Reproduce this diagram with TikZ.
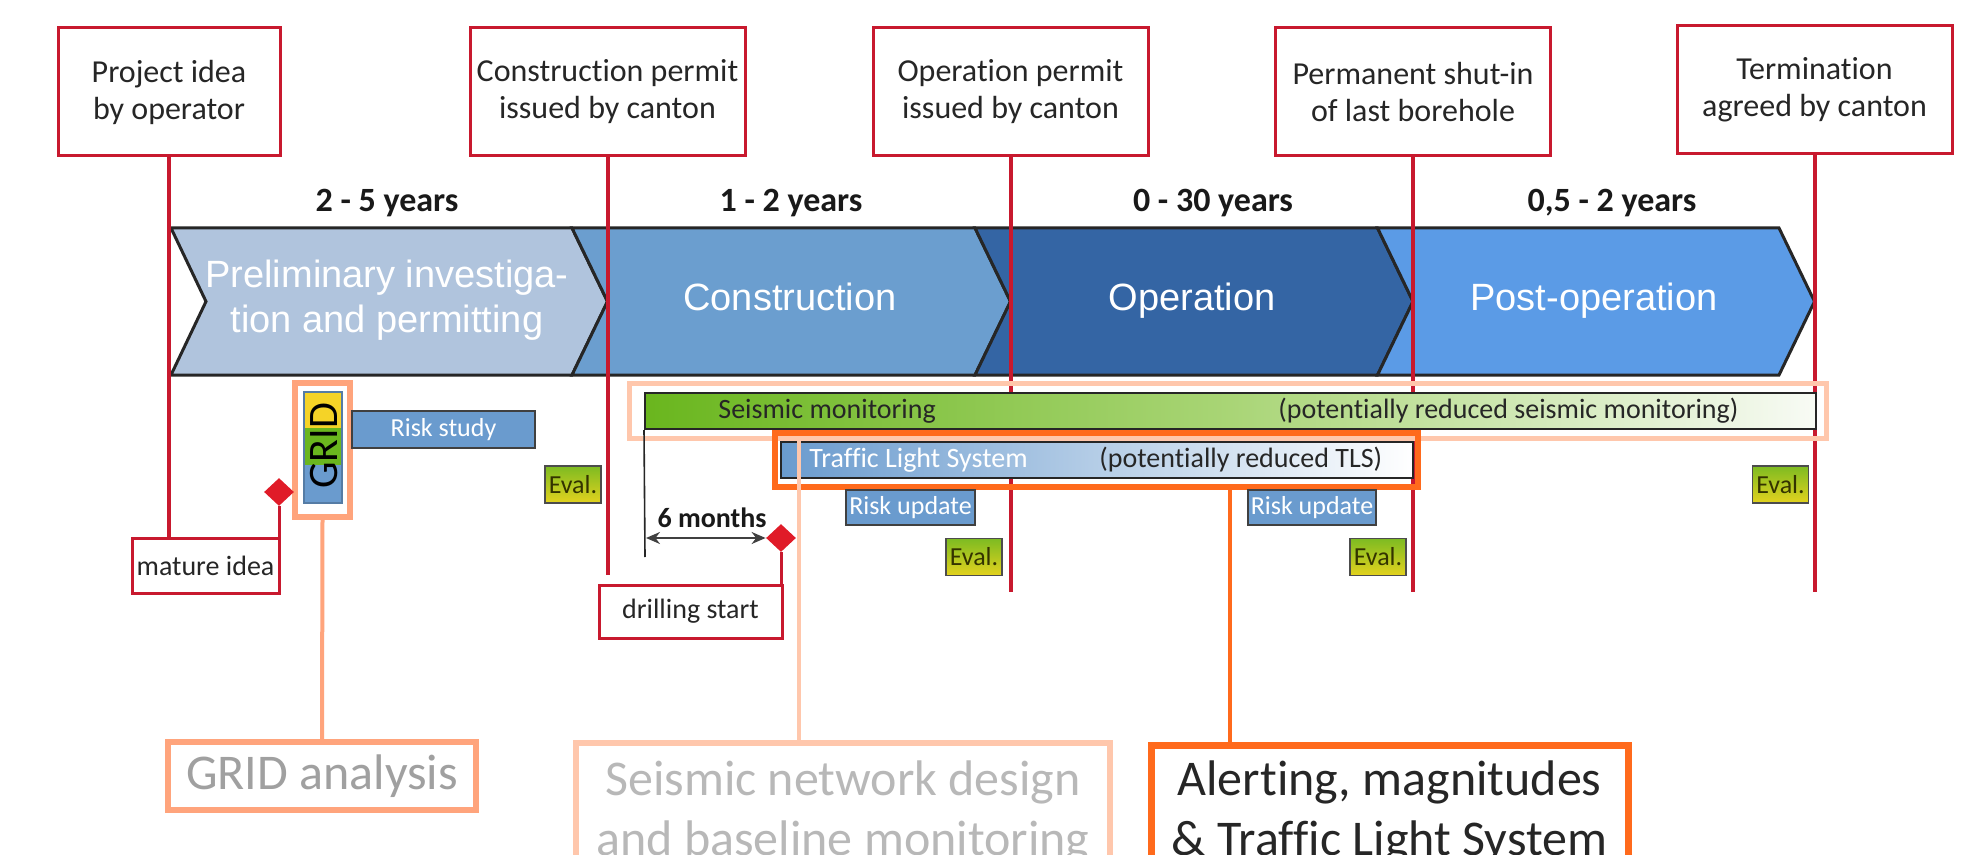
\documentclass[tikz,border=0pt]{standalone}
\usepackage{fontspec}
\setmainfont{Carlito}[Ligatures=NoCommon]
\newfontfamily\arialf{Liberation Sans}
\usetikzlibrary{arrows.meta,shapes.geometric}
\definecolor{evred}{HTML}{C8192E}
\definecolor{milered}{HTML}{E01B28}
\definecolor{cone}{HTML}{B0C4DD}
\definecolor{ctwo}{HTML}{6B9ECF}
\definecolor{cthree}{HTML}{3465A4}
\definecolor{cfour}{HTML}{5B9BE6}
\definecolor{fgrid}{HTML}{FFA47C}
\definecolor{fseis}{HTML}{FFC7AC}
\definecolor{ftls}{HTML}{FF6A1C}
\definecolor{riskblue}{HTML}{6A9BCE}
\definecolor{sgreen}{HTML}{6AB61E}
\definecolor{smid}{HTML}{A9D576}
\definecolor{swhite}{HTML}{F8FBF5}
\definecolor{evgreen}{HTML}{7DBB22}
\definecolor{evyellow}{HTML}{E3D21E}
\definecolor{evtext}{HTML}{333300}
\definecolor{gridyellow}{HTML}{F5D327}
\definecolor{gridgreen}{HTML}{6AB61E}
\definecolor{graytext}{HTML}{A0A0A0}
\definecolor{lgraytext}{HTML}{B8B8B8}
\begin{document}
\begin{tikzpicture}[x=0.5pt,y=-0.5pt,
  eventbox/.style={draw=evred, line width=1.5pt, fill=white, align=center, inner sep=0pt, text=black!85, font=\fontsize{16}{18.5}\selectfont, minimum height=64pt, minimum width=137.5pt},
  evline/.style={draw=evred, line width=2pt},
  yrs/.style={font=\bfseries\fontsize{17}{20}\selectfont, text=black!90, inner sep=0pt},
  chev/.style={draw=black!85, line width=1.5pt, line join=miter},
  phase/.style={font=\arialf\fontsize{19}{22.5}\selectfont, text=white, align=center, inner sep=0pt},
  smallbox/.style={draw=evred, line width=1.5pt, fill=white, inner sep=0pt, text=black!85, font=\fontsize{14}{16}\selectfont},
  riskbox/.style={draw=black!75, line width=0.8pt, fill=riskblue, text=white, inner sep=0pt, font=\fontsize{13}{15}\selectfont},
  evalbox/.style={draw=black!70, line width=0.8pt, top color=evgreen, bottom color=evyellow, text=evtext, inner sep=0pt, font=\fontsize{13}{15}\selectfont, minimum width=28pt, minimum height=18.5pt},
  barlabel/.style={anchor=west, inner sep=0pt, font=\fontsize{14}{16}\selectfont},
  mile/.style={diamond, fill=milered, inner sep=0pt, minimum width=15pt, minimum height=14pt},
  topic/.style={align=center, inner sep=0pt, font=\fontsize{25}{30}\selectfont},
  frame/.style={inner sep=0pt}
]
\clip (0,0) rectangle (1984,855);
\fill[white] (0,0) rectangle (1984,855);

% phases
\draw[chev, fill=cone] (171,228) -- (572,228) -- (607.5,301.5) -- (572,375) -- (171,375) -- (206,301.5) -- cycle;
\draw[chev, fill=ctwo] (572,228) -- (975,228) -- (1010.5,301.5) -- (975,375) -- (572,375) -- (607.5,301.5) -- cycle;
\draw[chev, fill=cthree] (975,228) -- (1377.5,228) -- (1413,301.5) -- (1377.5,375) -- (975,375) -- (1010.5,301.5) -- cycle;
\draw[chev, fill=cfour] (1377.5,228) -- (1779,228) -- (1814.5,301.5) -- (1779,375) -- (1377.5,375) -- (1413,301.5) -- cycle;
\node[phase] (p1) at (387,300) {Preliminary investiga-\\tion and permitting};
\node[phase, anchor=base] (p2) at (790,311) {Construction};
\node[phase, anchor=base] (p3) at (1192,311) {Operation};
\node[phase, anchor=base] (p4) at (1594,311) {Post-operation};

\node[yrs] (y1) at (387,203) {2 - 5 years};
\node[yrs] (y2) at (791,203) {1 - 2 years};
\node[yrs] (y3) at (1213,203) {0 - 30 years};
\node[yrs] (y4) at (1612,203) {0,5 - 2 years};

% events
\node[eventbox, minimum width=111pt] (pi) at (169,92) {Project idea\\by operator};
\node[eventbox] (cp) at (607.5,92) {Construction permit\\issued by canton};
\node[eventbox] (op) at (1010.5,92) {Operation permit\\issued by canton};
\node[eventbox] (ps) at (1413,92) {Permanent shut-in\\of last borehole};
\node[eventbox] (te) at (1814.5,90) {Termination\\agreed by canton};

\coordinate (cpe) at (607.5,575);
\coordinate (ope) at (1010.5,592);
\coordinate (pse) at (1413,592);
\coordinate (tee) at (1814.5,592);
\draw[evline] (cp.south) -- (cpe);
\draw[evline] (op.south) -- (ope);
\draw[evline] (ps.south) -- (pse);
\draw[evline] (te.south) -- (tee);

% frames
\node[frame, draw=fseis, line width=2.5pt, minimum width=598.5pt, minimum height=27.5pt] (sf) at (1227.5,410.5) {};
\node[frame, draw=ftls, line width=3pt, minimum width=321.5pt, minimum height=27pt] (tf) at (1096.5,460) {};
\node[frame, draw=fgrid, line width=3pt, minimum width=27.5pt, minimum height=67pt] (gf) at (322.5,450) {};

% bars
\node[draw=black!85, line width=1pt, left color=sgreen, right color=swhite, middle color=smid, minimum width=585.5pt, minimum height=18pt, inner sep=0pt] (sm) at (1230.5,411) {};
\node[barlabel, text=black!85] (smt) at (718,411) {Seismic monitoring};
\node[barlabel, text=black!85] (smr) at (1278,411) {(potentially reduced seismic monitoring)};
\node[draw=black!85, line width=1pt, left color=riskblue, right color=white, minimum width=316pt, minimum height=18pt, inner sep=0pt] (tb) at (1097,460) {};
\node[barlabel, text=white] (tbt) at (809,460) {Traffic Light System};
\node[barlabel, text=black!85] (tbr) at (1099,460) {(potentially reduced TLS)};

% GRID bar
\fill[riskblue] (304,392) rectangle (342,503);
\fill[gridyellow] (305,392) rectangle (341,428);
\fill[gridgreen] (305,428) rectangle (341,465);
\draw[riskblue!80!black, line width=0.6pt] (304,392) rectangle (342,503);
\node[rotate=90, inner sep=0pt, font=\fontsize{21}{22}\selectfont, text=black] (gridt) at (324,446) {GRID};

% risk and eval
\node[riskbox, minimum width=91.5pt, minimum height=18.5pt] (rs) at (443.5,429.5) {Risk study};
\node[riskbox, minimum width=64.5pt, minimum height=17.5pt] (ru1) at (910.5,507.5) {Risk update};
\node[riskbox, minimum width=64pt, minimum height=17.5pt] (ru2) at (1312,507.5) {Risk update};
\node[evalbox] (ev1) at (573,484.5) {Eval.};
\node[evalbox] (ev2) at (974,557) {Eval.};
\node[evalbox] (ev3) at (1378,557) {Eval.};
\node[evalbox] (ev4) at (1780.5,484.5) {Eval.};

% milestones
\node[smallbox, minimum width=73.5pt, minimum height=27.5pt] (mi) at (205.5,565.5) {mature idea};
\node[mile] (d1) at (279,492) {};
\draw[evline] (pi.south) -- (pi.south |- mi.north);
\draw[evred, line width=1.5pt] (d1.south) -- (d1.south |- mi.north);
\node[smallbox, minimum width=91.5pt, minimum height=26.5pt] (ds) at (690.5,611.5) {drilling start};
\node[mile] (d2) at (781,538) {};
\draw[evred, line width=1.5pt] (d2.south) -- (d2.south |- ds.north);

\coordinate (sixv) at (645,557);
\coordinate (sixa) at (646,538);
\draw[black!85, line width=0.8pt] (sm.south west) -- (sixv);
\draw[black!75, line width=1pt, {Stealth[length=7pt,width=6pt]}-{Stealth[length=7pt,width=6pt]}] (sixa) -- (d2.west);
\node[font=\bfseries\fontsize{14}{16}\selectfont, text=black!90, inner sep=0pt] (six) at (712,518) {6 months};

% topics
\node[topic, draw=fgrid, line width=3pt, text=graytext, minimum width=154pt, minimum height=34pt] (ga) at (322,776) {GRID analysis};
\node[topic, draw=fseis, line width=3pt, text=lgraytext, minimum width=267pt, minimum height=69pt] (sn) at (843,812) {Seismic network design\\and baseline monitoring};
\node[topic, draw=ftls, line width=3.5pt, text=black!85, minimum width=238.5pt, minimum height=67pt] (al) at (1389.5,812) {Alerting, magnitudes\\\& Traffic Light System};

\draw[fgrid, line width=2pt] (gf.south) -- (ga.north);
\coordinate (snx) at (799,438);
\draw[fseis, line width=2pt] (snx) -- (snx |- sn.north);
\coordinate (alx) at (1230,487);
\draw[ftls, line width=2pt] (alx) -- (alx |- al.north);
\end{tikzpicture}
\end{document}
